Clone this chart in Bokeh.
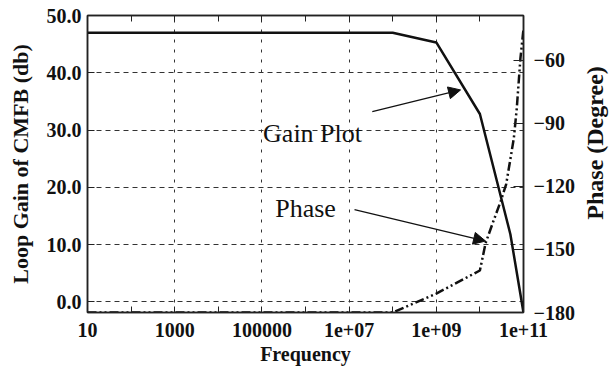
import math
from bokeh.plotting import figure
from bokeh.layouts import row
from bokeh.models import (Range1d, LinearAxis, LogAxis, FixedTicker, PrintfTickFormatter,
                          Arrow, NormalHead, Label, LogScale, Grid)
from bokeh.embed import file_html
from bokeh.resources import INLINE

# ---- data ----
freq_gain = [10, 1e8, 1e9, 1e10, 5e10, 1e11]
gain_db = [47.0, 47.0, 45.3, 32.8, 11.8, -1.9]

freq_phase = [10, 1e8, 1e9, 1e10, 1.35e10, 2e10, 3e10, 4e10, 5e10, 6e10, 7e10, 8.5e10, 1e11]
phase_deg = [-180, -180, -171, -160, -147, -137, -127, -119, -107, -97, -83, -59, -45]

x_ticks = [10, 1e3, 1e5, 1e7, 1e9, 1e11]
x_tick_labels = ["10", "1000", "100000", "1e+07", "1e+09", "1e+11"]
x_minor_ticks = [1e2, 1e4, 1e6, 1e8, 1e10]
gain_ticks = [0, 10, 20, 30, 40, 50]
phase_ticks = [-180, -150, -120, -90, -60]
phase_tick_labels = ["\u2212180", "\u2212150", "\u2212120", "\u221290", "\u221260"]

x_title = "Frequency"
y_title = "Loop Gain of CMFB (db)"
y2_title = "Phase (Degree)"

gain_note = "Gain Plot"
phase_note = "Phase"
gain_note_pos = (1.45e6, 29.4)
phase_note_pos = (1.0e6, 16.3)
gain_arrow = ((3.4e7, 33.2), (3.6e9, 37.0))
phase_arrow = ((1.33e7, 16.1), (1.35e10, 10.6))

FONT = "Liberation Serif"
MAIN_W, SIDE_W, H = 579, 30, 367

p = figure(width=MAIN_W, height=H, output_backend="svg", toolbar_location=None,
           x_axis_type=None, y_axis_type=None,
           x_range=Range1d(10, 1e11), y_range=Range1d(-1.87, 50.0),
           min_border_left=87, min_border_right=MAIN_W - 523, min_border_top=15,
           min_border_bottom=55)
p.x_scale = LogScale()
p.extra_y_ranges = {"phase": Range1d(-180, -38.6)}
p.background_fill_color = "white"
p.border_fill_color = "white"
p.outline_line_color = "#222222"
p.outline_line_width = 1.5

def style_axis(ax, size="20px"):
    ax.major_label_text_font = FONT
    ax.major_label_text_font_style = "bold"
    ax.major_label_text_font_size = size
    ax.major_label_text_color = "#111111"
    ax.axis_label_text_font = FONT
    ax.axis_label_text_font_style = "bold"
    ax.axis_label_text_color = "#111111"
    ax.axis_line_color = "#222222"
    ax.axis_line_width = 1.5
    ax.major_tick_line_color = "#222222"
    ax.minor_tick_line_color = "#222222"
    ax.major_tick_out = 0
    ax.minor_tick_out = 0

# bottom log axis
xb = LogAxis(ticker=FixedTicker(ticks=x_ticks, minor_ticks=x_minor_ticks),
             axis_label=x_title)
style_axis(xb)
xb.major_label_overrides = {t: l for t, l in zip(x_ticks, x_tick_labels)}
xb.major_tick_in = 6
xb.minor_tick_in = 6
xb.major_label_standoff = 10
xb.axis_label_standoff = 3
xb.axis_label_text_font_size = "20px"
p.add_layout(xb, "below")

# top axis: ticks only
xt = LogAxis(ticker=FixedTicker(ticks=x_ticks, minor_ticks=x_minor_ticks))
style_axis(xt)
xt.major_label_text_font_size = "1px"
xt.major_label_text_alpha = 0
xt.major_label_standoff = 0
xt.major_tick_in = 6
xt.minor_tick_in = 6
p.add_layout(xt, "above")

# left gain axis
yl = LinearAxis(ticker=FixedTicker(ticks=gain_ticks),
                formatter=PrintfTickFormatter(format="%.1f"),
                axis_label=y_title)
style_axis(yl)
yl.major_tick_in = 7
yl.minor_tick_in = 0
yl.major_label_standoff = 6
yl.axis_label_standoff = 11
yl.axis_label_text_font_size = "22px"
p.add_layout(yl, "left")

# right phase axis (its title is drawn in the narrow strip to the right)
yr = LinearAxis(y_range_name="phase", ticker=FixedTicker(ticks=phase_ticks))
style_axis(yr)
yr.major_label_overrides = {t: l for t, l in zip(phase_ticks, phase_tick_labels)}
yr.major_tick_in = 10
yr.minor_tick_in = 0
yr.major_label_standoff = 10
p.add_layout(yr, "right")

# grids
xg = Grid(dimension=0, ticker=FixedTicker(ticks=x_ticks[1:-1]),
          grid_line_color="#333333", grid_line_width=1, grid_line_dash="3 7")
yg = Grid(dimension=1, ticker=FixedTicker(ticks=gain_ticks[:-1]),
          grid_line_color="#333333", grid_line_width=1, grid_line_dash="5 4")
p.add_layout(xg)
p.add_layout(yg)

# curves
p.line(freq_gain, gain_db, line_color="#111111", line_width=2.5)
p.line(freq_phase, phase_deg, y_range_name="phase", line_color="#111111",
       line_width=2.5, line_dash="9 3 2 3 2 3")

# annotations
for (s, e) in (gain_arrow, phase_arrow):
    p.add_layout(Arrow(x_start=s[0], y_start=s[1], x_end=e[0], y_end=e[1],
                       line_color="#111111", line_width=1.2,
                       end=NormalHead(size=12, fill_color="#111111", line_color="#111111")))

for txt, pos in ((gain_note, gain_note_pos), (phase_note, phase_note_pos)):
    p.add_layout(Label(x=pos[0], y=pos[1], text=txt, text_font=FONT,
                       text_font_size="26px", text_color="#111111",
                       text_align="center", text_baseline="middle"))

# narrow strip holding the right-hand axis title, reading bottom-to-top
side = figure(width=SIDE_W, height=H, output_backend="svg", toolbar_location=None,
              x_axis_location=None, y_axis_location=None,
              x_range=Range1d(0, SIDE_W), y_range=Range1d(0, H),
              min_border_left=0, min_border_right=0, min_border_top=0, min_border_bottom=0)
side.grid.visible = False
side.outline_line_color = None
side.background_fill_color = "white"
side.border_fill_color = "white"
side.add_layout(Label(x=SIDE_W / 2, y=H - 157.5, text=y2_title, text_font=FONT,
                      text_font_style="bold", text_font_size="24px", text_color="#111111",
                      text_align="center", text_baseline="middle", angle=math.pi / 2))

layout = row(p, side, spacing=0)
open("out.html", "w").write(file_html(layout, INLINE))
